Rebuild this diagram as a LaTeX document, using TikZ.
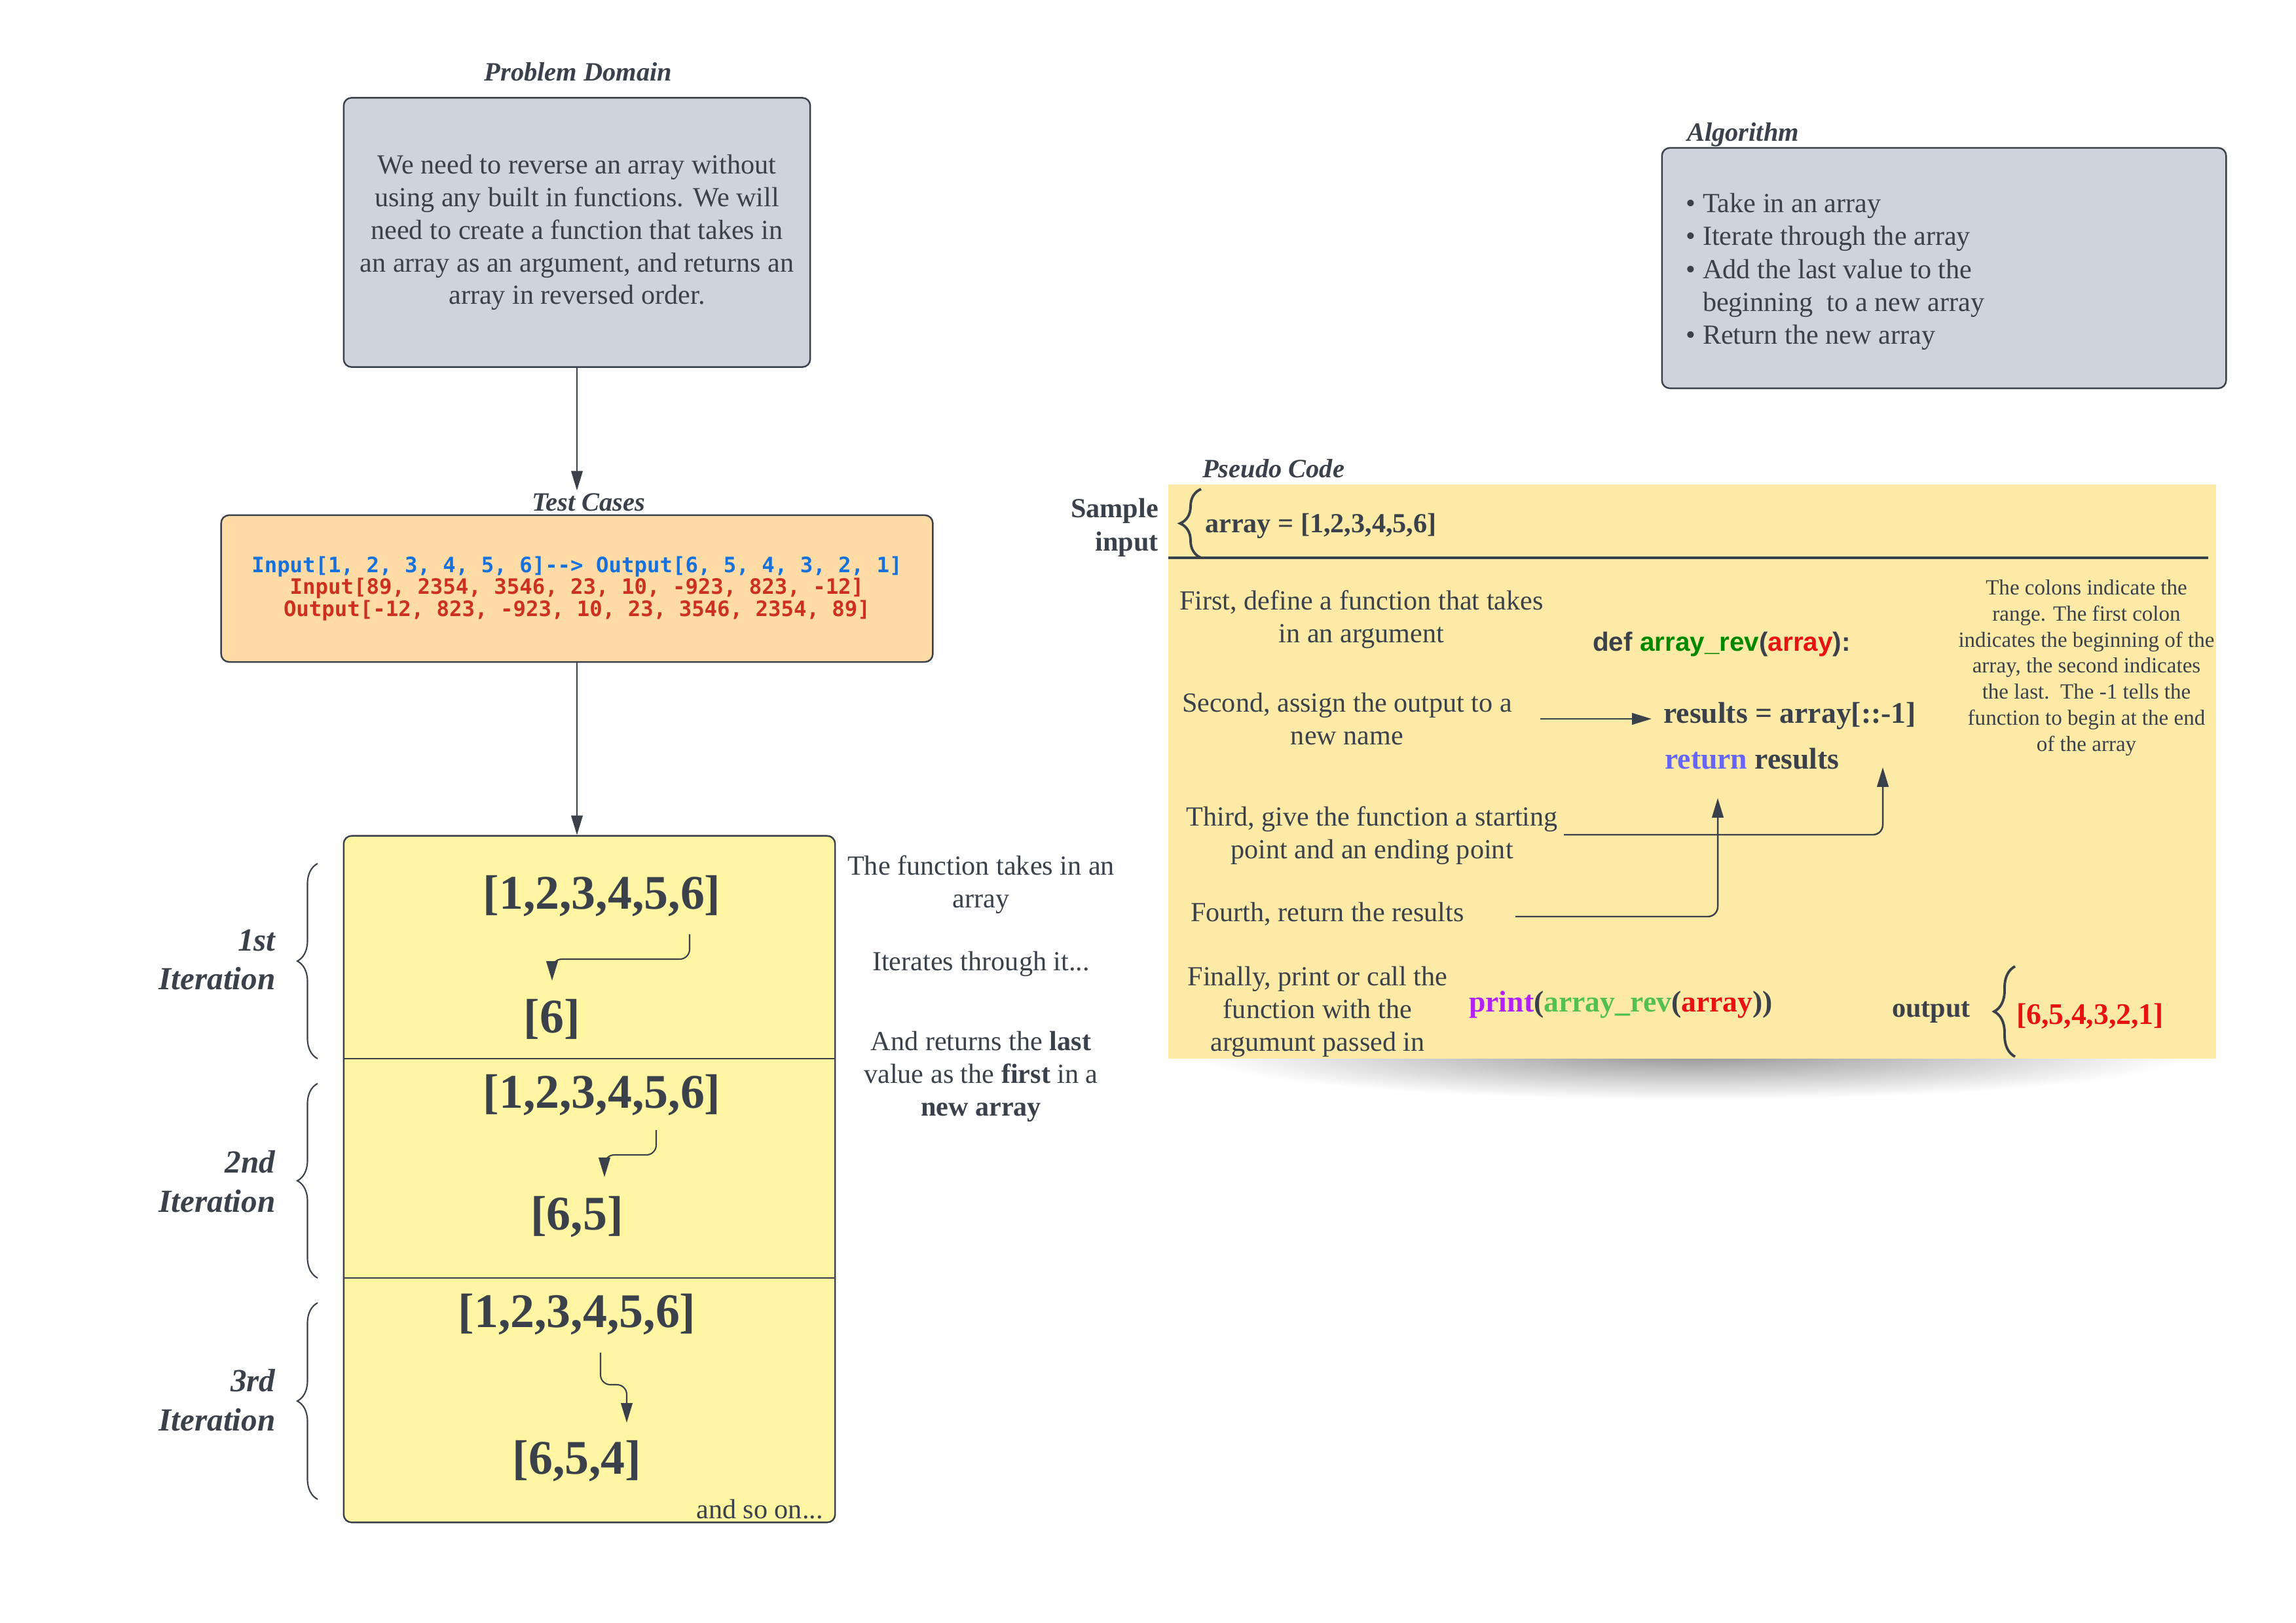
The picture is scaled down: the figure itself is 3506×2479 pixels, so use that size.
\documentclass[tikz,border=0pt]{standalone}
\usepackage{fontspec}
\setmainfont{Liberation Serif}
\setsansfont{Liberation Sans}
\newfontfamily\codefont{DejaVu Sans Mono}
\usetikzlibrary{arrows.meta,decorations.pathreplacing,calc}

\definecolor{ink}{RGB}{58,65,74}
\definecolor{boxgray}{RGB}{205,212,221}
\definecolor{tcorange}{RGB}{255,219,166}
\definecolor{pcyellow}{RGB}{254,234,167}
\definecolor{ityellow}{RGB}{255,245,163}
\definecolor{codeblue}{RGB}{22,113,220}
\definecolor{codered}{RGB}{204,48,32}
\definecolor{pyred}{RGB}{232,18,18}
\definecolor{pygreen}{RGB}{0,136,0}
\definecolor{pylgreen}{RGB}{84,192,84}
\definecolor{pyblue}{RGB}{102,102,255}
\definecolor{pypurple}{RGB}{178,34,255}

\newcommand{\fs}[2]{\fontsize{#1}{#2}\selectfont}

\tikzset{
  box/.style args={#1,#2}{
  rounded corners=1.2mm,
  draw=ink,
  line width=0.7pt,
  minimum width=#1 cm,
  minimum height=#2 cm,
  inner sep=0pt,
  },
  stage/.style args={#1,#2}{
  minimum width=#1 cm,
  minimum height=#2 cm,
  inner sep=0pt,
  outer sep=0pt,
  },
  txt/.style={yshift=-0.05cm},
  title/.style={txt,font=\fs{11.5}{14}\bfseries\itshape,inner sep=1pt},
  body/.style={txt,font=\fs{12}{14.2},align=center},
  big/.style={txt,font=\fs{21}{25}\bfseries,inner sep=1pt},
  code/.style={txt,font=\fs{13}{15}\bfseries,inner sep=1pt,anchor=west},
  iterlabel/.style={txt,font=\fs{14}{17}\bfseries\itshape,align=right,anchor=east},
  flow/.style={-{Triangle[length=8.5pt,width=5pt]},line width=0.6pt,rounded corners=1.5mm},
  pcflow/.style={flow,line width=0.7pt},
  curly/.style={decorate,decoration={brace,amplitude=#1}},
}

\begin{document}
\begin{tikzpicture}[x=0.01cm,y=-0.01cm,color=ink]
  \useasboundingbox (0,0) rectangle (3506,2479);

  % shadow under the pseudo code sheet
  \shade [inner color=black!42,outer color=white] (2583,1610) ellipse (7.6cm and 0.7cm);

  % problem domain and test cases
  \node [title] (pdtitle) at (883,105) {Problem Domain};
  \node [box={7.12,4.11},fill=boxgray,body,yshift=0.05cm] (pd) at (881,355) {We need to reverse an array without\\using any built in functions. We will\\need to create a function that takes in\\an array as an argument, and returns an\\array in reversed order.};

  \node [title] (tctitle) at (899,762) {Test Cases};
  \node [box={10.86,2.24},fill=tcorange,align=center,font=\codefont\bfseries\fs{9.2}{9.6}] (tc) at (881,899) {\textcolor{codeblue}{Input[1, 2, 3, 4, 5, 6]-{}-> Output[6, 5, 4, 3, 2, 1]}\\\textcolor{codered}{Input[89, 2354, 3546, 23, 10, -923, 823, -12]}\\\textcolor{codered}{Output[-12, 823, -923, 10, 23, 3546, 2354, 89]}};

  \draw [flow] (pd.south) -- (pd.south |- tctitle.north);

  % iterations
  \node [box={7.5,10.48},fill=ityellow] (iter) at (900,1801) {};
  \node [stage={7.5,3.40}] (st1) at (900,1447) {};
  \node [stage={7.5,3.35}] (st2) at (900,1784.5) {};
  \node [stage={7.5,3.73}] (st3) at (900,2138.5) {};
  \draw [line width=0.7pt] (st2.north west) -- (st2.north east);
  \draw [line width=0.7pt] (st3.north west) -- (st3.north east);

  \draw [flow] (tc.south) -- (tc.south |- iter.north);

  \node [big] (a1) at (919,1364) {[1,2,3,4,5,6]};
  \node [big] (r1) at (843,1552) {[6]};
  \node [big] (a2) at (919,1668) {[1,2,3,4,5,6]};
  \node [big] (r2) at (881,1854) {[6,5]};
  \node [big] (a3) at (881,2003) {[1,2,3,4,5,6]};
  \node [big] (r3) at (881,2227) {[6,5,4]};
  \node [body] (more) at (1160,2300) {and so on...};

  \coordinate (s1) at (1053,1427);
  \coordinate (e1) at (843,1498);
  \coordinate (s2) at (1002,1726);
  \coordinate (e2) at (923,1798);
  \coordinate (s3) at (917,2066);
  \coordinate (e3) at (957,2173);
  \draw [flow] (s1) -- ++(0,38) -| (e1);
  \draw [flow] (s2) -- ++(0,38) -| (e2);
  \draw [flow] (s3) -- ++(0,49) -| (e3);

  \node [iterlabel] (l1) at (433,1461) {1st\\Iteration};
  \node [iterlabel] (l2) at (433,1800) {2nd\\Iteration};
  \node [iterlabel] (l3) at (433,2134) {3rd\\Iteration};
  \draw [curly=0.31cm,line width=0.6pt] (485,1617) -- (485,1319);
  \draw [curly=0.31cm,line width=0.6pt] (485,1952) -- (485,1655);
  \draw [curly=0.31cm,line width=0.6pt] (485,2290) -- (485,1990);

  \node [body] (n1) at (1498,1346) {The function takes in an\\array};
  \node [body] (n2) at (1498,1467) {Iterates through it...};
  \node [body] (n3) at (1498,1639) {And returns the \textbf{last}\\value as the \textbf{first} in a\\\textbf{new array}};

  % algorithm
  \node [title,anchor=west] (agtitle) at (2572,201) {Algorithm};
  \node [box={8.61,3.67},fill=boxgray] (ag) at (2968.5,409.5) {};
  \node [txt,font=\fs{12}{14.3},align=left,anchor=west,inner sep=0pt] (agitems) at (2574,410) {\textbullet\ Take in an array\\\textbullet\ Iterate through the array\\\textbullet\ Add the last value to the\\\phantom{\textbullet\ }beginning\ \ to a new array\\\textbullet\ Return the new array};

  % pseudo code
  \node [stage={15.99,8.77},fill=pcyellow] (pc) at (2583.5,1178.5) {};
  \node [title,anchor=west] (pctitle) at (1832,711) {Pseudo Code};

  \node [txt,font=\fs{12}{14.5}\bfseries,align=right,anchor=east,inner sep=1pt] (smp) at (1773,801) {Sample\\input};
  \draw [curly=0.32cm,line width=1.1pt] (1834,852) -- (1834,747);
  \node [txt,font=\fs{12}{14}\bfseries,anchor=west,inner sep=1pt] (arr) at (1836,798) {array = [1,2,3,4,5,6]};
  \coordinate (sepl) at (1784,852);
  \coordinate (sepr) at (3372,852);
  \draw [line width=0.9pt] (sepl) -- (sepr);

  \node [body] (d1) at (2079,941) {First, define a function that takes\\in an argument};
  \node [body] (d2) at (2057,1093) {Second, assign the output to a\\new name};
  \node [body] (d3) at (2095,1271) {Third, give the function a starting\\point and an ending point};
  \node [body,anchor=west,inner sep=1pt] (d4) at (1814,1391) {Fourth, return the results};
  \node [body] (d5) at (2012,1540) {Finally, print or call the\\function with the\\argumunt passed in};

  \node [txt,anchor=west,inner sep=1pt,font=\sffamily\bfseries\fs{11.5}{14}] (def) at (2428,979) {def \textcolor{pygreen}{array\_rev}(\textcolor{pyred}{array}):};
  \node [code] (res) at (2536,1089) {results = array[::-1]};
  \node [code] (ret) at (2538,1154) {\textcolor{pyblue}{return} results};
  \node [code] (call) at (2239,1530) {\textcolor{pypurple}{print}(\textcolor{pylgreen}{array\_rev}(\textcolor{pyred}{array}))};

  \node [font=\fs{9.4}{11.3},align=center] (colons) at (3186,1020) {The colons indicate the\\range. The first colon\\indicates the beginning of the\\array, the second indicates\\the last.\ \ The -1 tells the\\function to begin at the end\\of the array};

  \node [txt,font=\fs{12}{14}\bfseries] (outl) at (2949,1541) {output};
  \draw [curly=0.32cm,line width=1.1pt] (3077,1614) -- (3077,1476);
  \node [code,text=pyred] (outv) at (3075,1547) {[6,5,4,3,2,1]};

  \coordinate (p2) at (2352,1098);
  \coordinate (p3) at (2388,1275);
  \coordinate (q3) at (2875,1172);
  \coordinate (p4) at (2314,1400);
  \coordinate (q4) at (2623,1219);
  \draw [pcflow,shorten >=4pt] (p2) -- (p2 -| res.west);
  \draw [pcflow] (p3) -| (q3);
  \draw [pcflow] (p4) -| (q4);
\end{tikzpicture}
\end{document}
